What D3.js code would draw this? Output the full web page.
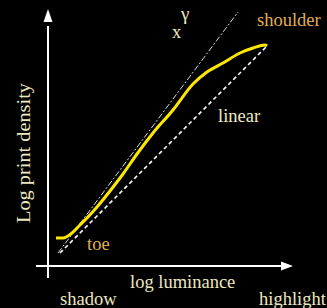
<!DOCTYPE html>
<html>
<head>
<meta charset="utf-8">
<script src="https://cdn.jsdelivr.net/npm/d3@7"></script>
<style>
  html, body { margin: 0; padding: 0; background: #000; }
</style>
</head>
<body>
<div id="chart"></div>
<script>
// characteristic curve (log luminance, log print density)
const curveX = [8, 15, 24, 32, 39, 49, 62, 75, 89, 105, 125, 145, 159, 175, 192, 205, 217, 219];
const curveY = [28, 28, 33, 41, 48, 59, 75, 92, 112, 133, 156, 182, 194, 203, 213, 218, 221, 220];

// the two reference lines: [start, end]
const linearX = [12, 219];
const linearY = [13, 220];
const gammaX = [10, 190];
const gammaY = [13, 254];

const W = 327, H = 308;
const cream = "#ece8c2", tan = "#e2ad57";
const serif = "'Liberation Serif', 'Times New Roman', Times, 'DejaVu Serif', serif";

const svg = d3.select("#chart")
    .append("svg")
    .attr("width", W)
    .attr("height", H)
    .style("display", "block")
    .style("background", "#000");

const x = d3.scaleLinear().domain([0, 250]).range([48, 298]);
const y = d3.scaleLinear().domain([0, 250]).range([266, 16]);

// axes with arrowheads
svg.append("line")
    .attr("x1", x(0)).attr("x2", x(0))
    .attr("y1", y(-12)).attr("y2", y(240))
    .attr("stroke", "#fff").attr("stroke-width", 2);
svg.append("path")
    .attr("d", `M${x(0)},${y(257)} L${x(0) - 4.5},${y(244)} L${x(0) + 4.5},${y(244)} Z`)
    .attr("fill", "#fff");

svg.append("line")
    .attr("x1", x(-12)).attr("x2", x(236))
    .attr("y1", y(0)).attr("y2", y(0))
    .attr("stroke", "#fff").attr("stroke-width", 2);
svg.append("path")
    .attr("d", `M${x(245)},${y(0)} L${x(233)},${y(0) - 4.5} L${x(233)},${y(0) + 4.5} Z`)
    .attr("fill", "#fff");

// reference lines
svg.append("line")
    .attr("x1", x(gammaX[0])).attr("y1", y(gammaY[0]))
    .attr("x2", x(gammaX[1])).attr("y2", y(gammaY[1]))
    .attr("stroke", "#d8d8d8").attr("stroke-width", 1)
    .attr("stroke-dasharray", "6,2,2,2");
svg.append("line")
    .attr("x1", x(linearX[0])).attr("y1", y(linearY[0]))
    .attr("x2", x(linearX[1])).attr("y2", y(linearY[1]))
    .attr("stroke", "#fff").attr("stroke-width", 1.6)
    .attr("stroke-dasharray", "4,3");

// the curve
const pts = curveX.map((v, i) => [v, curveY[i]]);
svg.append("path")
    .datum(pts)
    .attr("fill", "none")
    .attr("stroke", "#ffe800")
    .attr("stroke-width", 3)
    .attr("stroke-linejoin", "round")
    .attr("d", d3.line()
        .curve(d3.curveMonotoneX)
        .x(d => x(d[0]))
        .y(d => y(d[1])));

// labels
function label(t, px, py, col, size) {
    return svg.append("text")
        .attr("x", px).attr("y", py)
        .attr("fill", col)
        .attr("font-family", serif)
        .attr("font-size", size || 18.5)
        .text(t);
}
label("shoulder", 257, 26, tan);
label("toe", 87, 250, tan);
label("linear", 218, 122, cream);
label("x", 172, 38, cream);
label("γ", 181, 20, cream, 19);
label("log luminance", 130, 288, cream);
label("shadow", 60, 305, cream);
label("highlight", 259, 305, cream);

svg.append("text")
    .attr("transform", "translate(30,153) rotate(-90)")
    .attr("text-anchor", "middle")
    .attr("fill", cream)
    .attr("font-family", serif)
    .attr("font-size", 18)
    .attr("textLength", 140)
    .attr("lengthAdjust", "spacingAndGlyphs")
    .text("Log print density");
</script>
</body>
</html>
